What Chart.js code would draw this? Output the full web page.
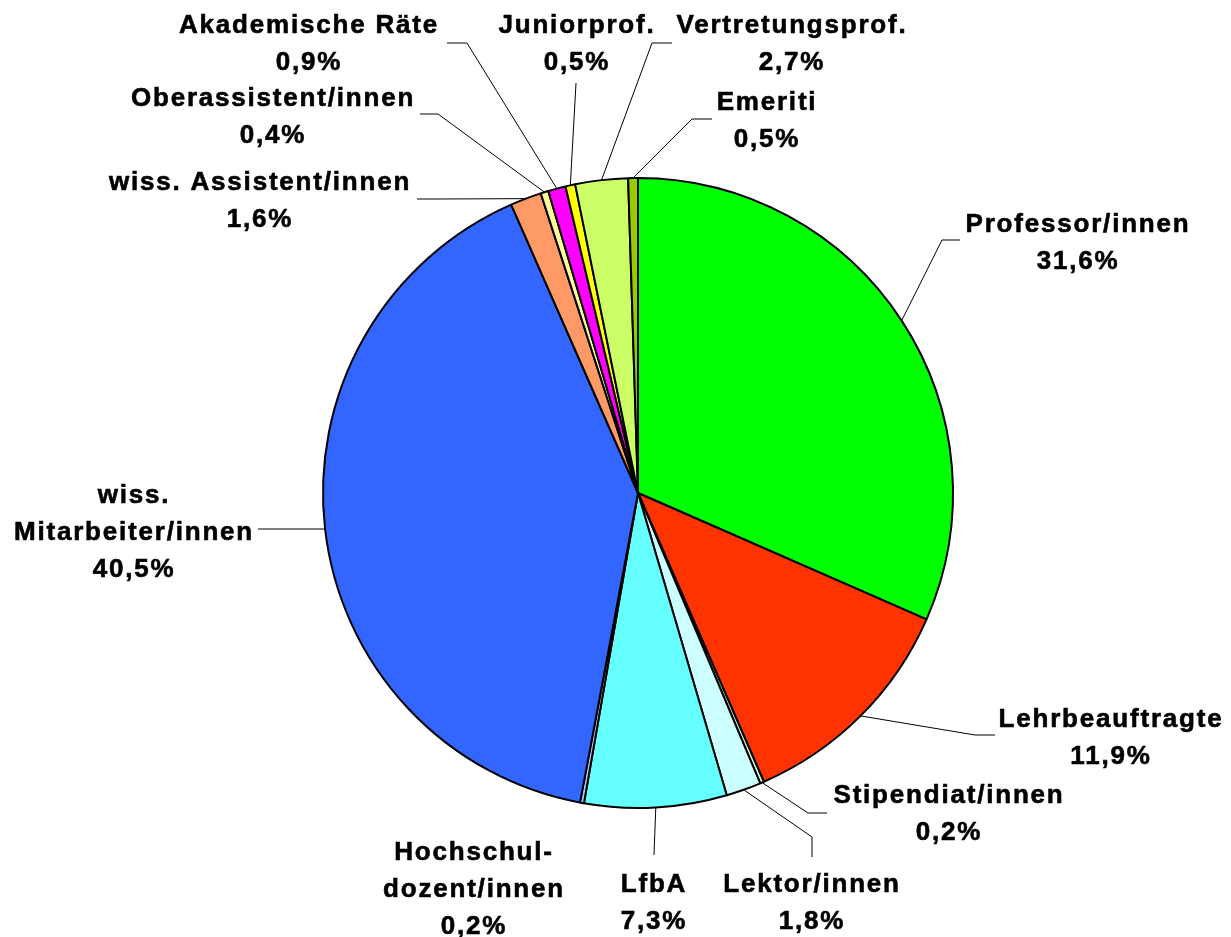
<!DOCTYPE html>
<html>
<head>
<meta charset="utf-8">
<script src="https://cdn.jsdelivr.net/npm/chart.js@4"></script>
<style>
  body { margin: 0; background: #fff; }
  canvas { display: block; }
</style>
</head>
<body>
<canvas id="myChart" width="1231" height="937"></canvas>
<script>
(function(){
    'use strict';

    // chart data, clockwise from 12 o'clock
    const categories = ['Professor/innen', 'Lehrbeauftragte', 'Stipendiat/innen', 'Lektor/innen', 'LfbA',
      'Hochschul-\ndozent/innen', 'wiss.\nMitarbeiter/innen', 'wiss. Assistent/innen', 'Oberassistent/innen',
      'Akademische Räte', 'Juniorprof.', 'Vertretungsprof.', 'Emeriti'];
    const shares = [31.6, 11.9, 0.2, 1.8, 7.3, 0.2, 40.5, 1.6, 0.4, 0.9, 0.5, 2.7, 0.5];
    const sliceColors = ['#00FF00', '#FF3300', '#CCFFCC', '#CCFFFF', '#66FFFF', '#99CCFF', '#3366FF',
      '#FF9966', '#FFFF99', '#FF00FF', '#FFFF00', '#CCFF66', '#99CC00'];

    // label placement: text centre x, first baseline y, leader bend points
    const labelLayout = [
      {x: 1078, y: 232, leader: [[942, 240], [960, 240]]},
      {x: 1111, y: 727, leader: [[975, 735], [995, 735]]},
      {x: 949, y: 803, leader: [[808, 813], [827, 813]]},
      {x: 812, y: 892, leader: [[812, 837], [812, 857]]},
      {x: 654, y: 892, leader: [[654, 855]]},
      {x: 474, y: 860, leader: []},
      {x: 134, y: 503, leader: [[277, 529], [258, 529]]},
      {x: 260, y: 190, leader: [[435, 199], [417, 199]]},
      {x: 273, y: 106, leader: [[438, 114], [420, 114]]},
      {x: 309, y: 33, leader: [[467, 43], [447, 43]]},
      {x: 577, y: 33, leader: [[576, 83]]},
      {x: 792, y: 33, leader: [[652, 43], [672, 43]]},
      {x: 767, y: 110, leader: [[692, 119], [712, 119]]}
    ];
    const lineGap = 37;

    const sliceLabels = {
      id: 'sliceLabels',
      afterDraw(chart){
        const ctx = chart.ctx;
        const meta = chart.getDatasetMeta(0);
        ctx.save();
        meta.data.forEach((arc, i) => {
          const lay = labelLayout[i];
          if (lay.leader.length){
            const mid = (arc.startAngle + arc.endAngle) / 2;
            ctx.strokeStyle = '#000';
            ctx.lineWidth = 1;
            ctx.beginPath();
            ctx.moveTo(arc.x + Math.cos(mid) * arc.outerRadius, arc.y + Math.sin(mid) * arc.outerRadius);
            lay.leader.forEach(p => ctx.lineTo(p[0], p[1]));
            ctx.stroke();
          }
          const lines = categories[i].split('\n');
          lines.push(shares[i].toFixed(1).replace('.', ',') + '%');
          ctx.fillStyle = '#000';
          ctx.strokeStyle = '#000';
          ctx.lineWidth = 0.6;
          ctx.font = 'bold 26px "Liberation Sans", Arial, sans-serif';
          ctx.letterSpacing = '1.8px';
          ctx.textAlign = 'center';
          ctx.textBaseline = 'alphabetic';
          lines.forEach((t, k) => {
            ctx.fillText(t, lay.x, lay.y + k * lineGap);
            ctx.strokeText(t, lay.x, lay.y + k * lineGap);
          });
        });
        ctx.restore();
      }
    };

    const ctx = document.getElementById('myChart').getContext('2d');
    new Chart(ctx, {
      type: 'pie',
      data: {
        labels: categories,
        datasets: [{
          data: shares,
          backgroundColor: sliceColors,
          borderColor: '#000',
          borderWidth: 2
        }]
      },
      options: {
        responsive: false,
        animation: false,
        devicePixelRatio: 1,
        layout: {
          padding: {left: 322, right: 277, top: 177, bottom: 128}
        },
        plugins: {
          legend: {display: false},
          tooltip: {enabled: false}
        }
      },
      plugins: [sliceLabels]
    });
})();
</script>
</body>
</html>
